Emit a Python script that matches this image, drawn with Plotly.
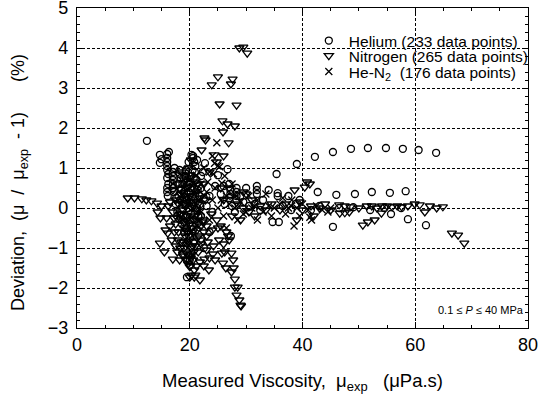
import plotly.graph_objects as go

# Helium (circles)
he_x = [12.4, 14.7, 14.7, 15.0,
        16.0, 16.0, 16.0, 16.0, 16.0, 16.2, 16.0, 16.2, 16.0, 16.0, 16.1,
        17.0, 17.0, 17.0, 17.0, 17.0, 17.2,
        18.0, 18.3, 18.5, 18.8, 18.5, 19.0,
        20.3, 20.6, 20.8, 21.0, 20.5, 20.2, 21.2, 20.0, 20.5, 21.0, 20.0, 19.7, 20.2, 20.8, 19.5, 20.5,
        22.7, 22.3, 22.0, 22.5, 23.0, 22.0,
        25.0, 26.7, 24.5, 25.5, 26.2,
        27.0, 27.2, 27.2, 27.0, 28.3, 28.3, 28.3, 28.3, 28.0,
        31.9, 31.9, 31.9, 31.5, 32.5, 30.5, 29.5,
        35.4, 35.6, 35.6, 34.7, 35.8, 36.5,
        39.0, 39.5, 38.8, 38.0,
        42.2, 42.7, 43.0, 41.5,
        45.4, 46.0, 45.4, 46.5,
        48.6, 49.3, 49.0,
        51.6, 52.3, 52.0,
        54.8, 55.5, 55.7, 54.5,
        57.8, 58.3, 58.7, 57.5,
        60.6, 61.9, 63.7,
        19.5, 20.0, 27.3, 23.5, 22.5,
        18.2, 19.3, 21.6, 17.6, 19.0, 21.8,
        17.5, 17.8, 18.0, 18.7, 19.2, 19.5, 19.8, 20.0, 20.3, 20.8, 21.3, 21.5, 19.0, 18.6,
        21.8, 22.0, 19.6, 18.9, 20.6, 21.3, 20.9, 16.3, 17.3, 23.5, 24.0, 26.0, 27.5, 29.0,
        30.0, 33.0, 34.0, 37.5,
        19.3, 19.8, 20.1, 20.7, 21.4, 18.4, 19.9, 21.9]
he_y = [1.68, 1.33, 1.13, 1.22,
        1.35, 1.25, 1.15, 1.05, 0.95, 0.85, 0.75, 0.60, 0.50, 0.40, 0.30,
        0.90, 0.80, 0.70, 0.60, 0.50, 0.40,
        0.60, 0.20, 0.00, -0.20, 0.45, 0.35,
        1.33, 1.25, 1.15, 1.05, 0.95, 0.80, 0.70, 0.60, 0.45, 0.30, 0.15, 0.00, -0.15, -0.30, -0.50, -0.70,
        1.12, 0.90, 0.50, 0.25, 0.05, -0.20,
        0.82, 0.97, 0.55, 0.35, 0.10,
        0.60, 0.45, 0.35, 0.25, 0.50, 0.40, 0.30, 0.20, -0.10,
        0.55, 0.45, 0.35, 0.10, -0.05, 0.05, 0.15,
        0.85, 0.37, 0.30, -0.35, -0.35, 0.05,
        1.10, 0.20, 0.10, -0.05,
        1.28, 0.40, 0.05, -0.05,
        1.40, 0.33, -0.47, 0.00,
        1.48, 0.35, 0.02,
        1.50, 0.40, -0.05,
        1.50, 0.38, -0.15, 0.00,
        1.48, 0.42, -0.28, 0.00,
        1.45, -0.43, 1.38,
        -1.73, -1.30, -0.70, -0.60, -1.00,
        0.95, 0.75, 0.55, 0.25, -0.35, 0.10,
        0.10, -0.10, 0.30, 0.60, 0.80, 0.20, 0.40, -0.30, 0.20, 0.50, 0.00, -0.20, -0.60, -0.40,
        0.30, 0.80, 0.65, 0.10, 1.30, 1.20, 0.90, 1.40, 1.00, 0.30, -0.10, 0.55, 0.05, 0.30,
        0.50, 0.20, 0.45, 0.30,
        0.95, 1.15, 0.50, 0.75, 0.45, 0.75, -0.05, 0.05]

# Nitrogen (down triangles)
n2_x = [28.8, 29.5, 30.2,
        25.0, 23.9, 27.6, 27.3,
        25.3, 28.3,
        25.8, 26.7, 28.0,
        25.9, 22.6, 22.8, 26.9, 22.1, 24.4, 24.8,
        9.0, 10.2, 11.5, 12.3, 13.2, 14.2, 15.0, 14.3, 14.8,
        15.9, 15.7, 16.1, 16.5, 14.7, 15.5, 17.0, 17.5, 16.8, 17.8, 18.2, 18.5,
        20.0, 20.3, 21.0, 21.8, 20.8, 19.8,
        22.6, 23.5, 25.7, 25.9, 27.4, 27.7, 27.4, 28.0, 28.0, 28.5, 28.3, 29.0, 29.1,
        24.5, 23.0, 21.5, 22.0, 24.2, 26.5, 27.0, 26.8, 25.5, 24.8, 23.8, 22.5, 21.5, 26.0, 21.8, 22.5,
        21.0, 22.0, 23.0, 24.0, 25.0,
        18.0, 18.5, 19.0, 19.2, 19.5, 19.0, 20.0, 20.5, 20.0, 19.5, 19.0, 18.2, 17.5, 17.0, 16.5,
        17.5, 18.0, 20.3, 21.0, 21.5, 21.0, 19.5, 20.0, 19.0, 18.6, 19.8, 17.8,
        18.8, 19.3, 19.7, 20.2, 20.7, 21.3, 18.4, 17.2, 22.3, 23.2,
        17.3, 17.9, 18.3, 18.8, 19.3, 19.6, 20.1, 20.6, 21.2, 19.6, 18.8, 20.8, 21.6, 22.4,
        22.8, 23.4, 24.1, 25.2, 26.2, 23.0, 17.0, 16.2, 19.4, 20.6, 18.1, 19.9, 21.5, 20.2,
        22.5, 23.5, 26.0, 25.5, 29.5, 26.4, 27.8, 28.8, 20.0, 20.8,
        18.6, 19.1, 19.4, 19.8, 20.3, 20.7, 21.1, 19.2, 19.9, 20.4, 18.9, 20.1, 20.5, 21.3,
        18.4, 19.6, 20.9, 21.7, 17.8, 22.0,
        27.0, 28.5, 29.5, 30.5, 31.0, 32.5, 33.5, 34.5, 30.0, 26.0, 27.5, 29.0, 31.5,
        36.0, 37.0, 38.6, 40.8, 40.4, 41.3, 39.5, 40.0, 41.5, 43.0, 44.0, 45.0, 42.0, 39.0,
        46.6, 47.5, 48.3, 50.7, 51.6, 52.8, 46.5, 47.5, 48.5, 50.0, 51.4, 52.3, 53.2, 54.1,
        55.0, 55.9, 56.8, 54.0, 57.6, 58.7, 59.9, 60.8, 61.7, 62.6, 63.8, 64.9,
        66.5, 67.6, 68.7]
n2_y = [4.00, 4.02, 3.87,
        3.28, 3.08, 3.22, 3.10,
        2.60, 2.57,
        2.18, 2.10, 2.05,
        1.90, 1.75, 1.70, 1.63, 1.45, 1.33, 1.15,
        0.25, 0.25, 0.23, 0.20, 0.18, 0.12, 0.05, -0.10, -0.25,
        -0.25, -0.55, -0.63, -0.45, -0.88, -1.10, -1.28, -0.95, -0.80, -1.10, -1.30, -0.85,
        -1.47, -1.68, -1.68, -1.80, -1.55, -1.20,
        -1.28, -1.25, -1.13, -1.38, -1.13, -1.30, -1.60, -1.78, -1.98, -1.98, -2.18, -2.43, -2.45,
        -1.30, -1.05, -1.10, -0.90, -0.95, -0.60, -0.80, -0.70, -0.45, -0.30, -0.15, -0.60, -0.40, -0.90, -1.35, -1.45,
        -0.95, -0.80, -0.70, -0.55, -0.50,
        0.10, -0.30, -0.50, -0.70, -0.90, -1.00, -0.80, -0.60, -0.40, -0.20, 0.10, 0.50, 0.20, -0.10, 0.15,
        -0.40, -0.60, -1.00, -0.20, 0.10, 0.40, 0.50, 0.30, 0.70, 0.90, 1.00, 0.60,
        -1.15, -1.30, -1.40, -1.25, -1.10, -0.75, -0.15, -0.25, -0.35, -0.85,
        -0.60, -0.80, -1.00, -1.20, -1.10, -1.30, -1.45, -1.30, -1.45, -0.60, -0.05, -0.85, -0.70, -0.30,
        0.20, -1.55, -1.15, -0.80, -1.10, -0.45, 0.45, 0.05, 0.30, 0.15, 0.85, 0.75, 0.60, 1.20,
        0.60, 0.90, 1.30, 0.50, 0.40, -1.50, -1.50, -2.30, -1.73, -1.73,
        -0.15, -0.35, -0.55, -0.70, -0.50, -0.30, -0.05, 0.05, 0.15, 0.00, -0.85, -1.15, -0.95, -0.55,
        0.35, 0.55, 0.65, 0.25, -0.25, -0.45,
        0.50, 0.10, 0.00, -0.10, 0.20, 0.05, -0.05, 0.10, 0.35, 0.20, -0.20, -0.30, -0.20,
        -0.05, 0.10, 0.45, 0.65, 0.52, 0.60, 0.15, -0.05, 0.05, 0.00, 0.10, -0.05, -0.20, -0.30,
        -0.13, -0.12, -0.10, -0.43, -0.35, -0.30, 0.08, 0.05, 0.03, 0.00, 0.05, 0.05, 0.00, 0.05,
        0.05, 0.03, 0.05, -0.13, 0.03, 0.05, 0.10, 0.08, -0.10, 0.05, 0.00, 0.03,
        -0.63, -0.68, -0.88]

# He-N2 mixtures (crosses)
mix_x = [24.8, 24.4, 25.3, 25.0, 21.2, 25.7, 23.5, 22.0, 23.0, 24.0, 24.5, 21.5, 20.5, 19.5,
         21.0, 22.0, 23.5, 25.0, 26.0, 27.0, 28.0, 29.0, 30.0, 31.0, 32.0, 33.0, 34.0, 35.0,
         36.0, 37.0, 38.0, 39.0, 40.0, 41.0, 41.3, 41.6, 42.5, 43.5, 44.5, 45.0, 18.5, 19.0,
         20.0, 18.0, 26.5, 28.5, 30.5, 32.0, 27.5, 22.5, 19.5, 20.5, 38.5, 33.5, 38.1,
         18.8, 19.7, 20.2, 21.8, 22.6, 23.2, 24.2, 25.6, 26.5, 27.8, 29.5, 31.5, 34.5, 36.5,
         37.5, 39.5, 26.2, 24.0, 19.1, 20.9, 20.3, 21.6]
mix_y = [1.63, 1.12, 1.03, 1.05, 0.82, 0.62, 0.90, 0.60, 0.40, 0.20, 0.50, 0.20, 0.00, -0.30,
         -0.50, -0.10, -0.30, 0.00, -0.20, 0.10, 0.00, 0.15, -0.10, 0.00, 0.20, -0.10, 0.05, 0.00,
         0.10, -0.15, 0.05, 0.00, 0.10, -0.05, -0.23, -0.30, 0.05, -0.05, -0.10, 0.00, 0.20, 0.50,
         0.70, -0.20, 0.30, -0.30, 0.30, -0.30, 0.60, 1.00, -0.90, -1.20, -0.45, 0.35, 0.20,
         0.35, 0.10, -0.60, -0.30, 0.30, 0.65, 0.85, 0.20, -0.50, 0.30, -0.15, 0.05, -0.20, 0.25,
         0.00, -0.20, 0.80, 1.30, 0.25, 0.35, -0.25, -0.10]

series_names = ["Helium (233 data points)",
                "Nitrogen (265 data points)",
                "He-N<sub>2</sub>  (176 data points)"]

FONT = "Liberation Sans, Arial, Helvetica, sans-serif"

fig = go.Figure()
fig.add_trace(go.Scatter(x=he_x, y=he_y, mode="markers", name=series_names[0], legend="legend",
                         marker=dict(symbol="circle-open", size=7, color="black",
                                     line=dict(width=1.3, color="black"))))
fig.add_trace(go.Scatter(x=n2_x, y=n2_y, mode="markers", name=series_names[1], legend="legend2",
                         marker=dict(symbol="triangle-down-open", size=8, color="black",
                                     line=dict(width=1.3, color="black"))))
fig.add_trace(go.Scatter(x=mix_x, y=mix_y, mode="markers", name=series_names[2], legend="legend3",
                         marker=dict(symbol="x-thin-open", size=7, color="black",
                                     line=dict(width=1.3, color="black"))))

axis_common = dict(showline=True, linecolor="black", linewidth=1.2, mirror="allticks",
                   ticks="inside", ticklen=6, tickwidth=1, tickcolor="black",
                   showgrid=True, gridcolor="black", gridwidth=1, griddash="3px,2px",
                   zeroline=False, automargin=False, ticklabeloverflow="allow",
                   tickfont=dict(size=18, color="black", family=FONT))

fig.update_xaxes(range=[0, 80], dtick=20, tick0=0, ticklabelstandoff=0,
                 minor=dict(dtick=5, ticks="inside", ticklen=3, tickcolor="black", showgrid=False),
                 title=dict(text="Measured Viscosity,  μ<sub>exp</sub>   (μPa.s)",
                            font=dict(size=18.5, color="black", family=FONT), standoff=20),
                 **axis_common)
fig.update_yaxes(range=[-3, 5], dtick=1, tick0=0, ticklabelstandoff=4,
                 minor=dict(dtick=0.2, ticks="inside", ticklen=3, tickcolor="black", showgrid=False),
                 **axis_common)

# y-axis title as a rotated text placed like the reference
fig.add_annotation(x=-0.127, y=0.455, xref="paper", yref="paper", xanchor="center", yanchor="middle",
                   text="Deviation,  (μ  /  μ<sub>exp</sub>  - 1)      (%)", textangle=-90,
                   showarrow=False, font=dict(size=18, color="black", family=FONT))

fig.add_annotation(x=0.995, y=0.056, xref="paper", yref="paper", xanchor="right", yanchor="middle",
                   text="0.1 ≤ <i>P</i> ≤ 40 MPa", showarrow=False,
                   font=dict(size=11, color="black", family=FONT))

leg_common = dict(x=0.514, xanchor="left", yanchor="middle", bgcolor="rgba(0,0,0,0)",
                  borderwidth=0, itemwidth=30,
                  font=dict(size=15.5, color="black", family=FONT))
fig.update_layout(width=538, height=401,
                  margin=dict(l=77, r=10, t=8, b=73, autoexpand=False),
                  paper_bgcolor="white", plot_bgcolor="white",
                  font=dict(family=FONT, color="black"),
                  showlegend=True,
                  legend=dict(y=0.897, **leg_common),
                  legend2=dict(y=0.85, **leg_common),
                  legend3=dict(y=0.80, **leg_common))

fig.write_html("out.html", config={"displayModeBar": False},
               post_script="document.body.style.margin='0';document.body.style.padding='0';")
